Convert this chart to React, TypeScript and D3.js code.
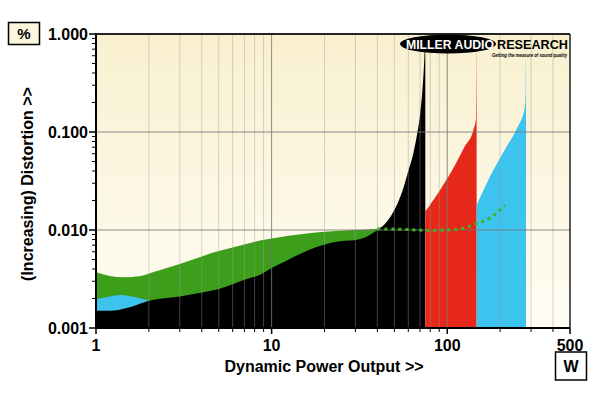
import * as d3 from 'd3';
import React from 'react';

const width = 600;
const height = 393;
const plot = { left: 96, right: 570, top: 34, bottom: 328 };

// x axis (W) and y axis (%) labels
const xTickValues = [1, 10, 100, 500];
const xTickLabels = ['1', '10', '100', '500'];
const yTickValues = [0.001, 0.01, 0.1, 1];
const yTickLabels = ['0.001', '0.010', '0.100', '1.000'];

// black trace (lowest load), filled from the floor
const blackPower = [1, 1.2, 1.5, 2, 3, 4, 5, 6, 7, 8.6, 10, 12, 14.5, 18, 21, 25, 30, 35, 40, 45, 49, 53, 56, 60, 64, 67, 70, 72, 74, 75];
const blackThd = [0.0015, 0.0015, 0.0016, 0.0019, 0.0021, 0.0023, 0.0025, 0.0028, 0.0031, 0.0035, 0.0041, 0.0048, 0.0057, 0.0067, 0.0073, 0.0077, 0.0079, 0.0086, 0.01, 0.012, 0.015, 0.02, 0.026, 0.04, 0.06, 0.09, 0.15, 0.25, 0.55, 1.0];

// green band top
const greenPower = [1, 1.2, 1.43, 1.8, 2, 3, 5, 7, 8.6, 10, 15, 20, 30, 40];
const greenThd = [0.0037, 0.0034, 0.0033, 0.0034, 0.0036, 0.0045, 0.0061, 0.0071, 0.0078, 0.0082, 0.0091, 0.0096, 0.01, 0.0103];

// cyan sliver at low power
const cyanLowPower = [1, 1.2, 1.37, 1.6, 2];
const cyanLowThd = [0.00196, 0.0021, 0.00217, 0.0021, 0.0019];

// red trace
const redPower = [75, 91, 110, 125, 141, 146, 147];
const redThd = [0.0154, 0.0256, 0.045, 0.07, 0.105, 0.14, 1.0];

// cyan trace
const cyanPower = [147, 175, 218, 250, 277, 280, 281];
const cyanThd = [0.018, 0.035, 0.071, 0.11, 0.18, 0.3, 1.0];

// green dotted continuation
const dotPower = [40, 60, 80, 100, 125, 147, 175, 195, 213];
const dotThd = [0.0103, 0.0101, 0.0099, 0.01, 0.0105, 0.0116, 0.0133, 0.0154, 0.018];

const font = '"Liberation Sans", Arial, sans-serif';

const x = d3.scaleLog().domain([1, 500]).range([plot.left, plot.right]);
const y = d3.scaleLog().domain([0.001, 1]).range([plot.bottom, plot.top]);

const pts = (p: number[], v: number[]) => p.map((d, i) => [d, v[i]] as [number, number]);

const area = d3.area<[number, number]>()
  .x(d => x(d[0]))
  .y0(plot.bottom)
  .y1(d => y(d[1]))
  .curve(d3.curveMonotoneX);

const line = d3.line<[number, number]>()
  .x(d => x(d[0]))
  .y(d => y(d[1]))
  .curve(d3.curveMonotoneX);

// minor positions inside each decade
const minorX: number[] = [];
[1, 10, 100].forEach(dec => {
  for (let k = 2; k <= 9; k++) if (dec * k < 500) minorX.push(dec * k);
});
const minorY: number[] = [];
[0.001, 0.01, 0.1].forEach(dec => {
  for (let k = 2; k <= 9; k++) minorY.push(dec * k);
});

export default function App() {
  return (
    <svg width={width} height={height} style={{ position: 'absolute', left: 0, top: 0, background: '#fff' }}>
      <defs>
        <linearGradient id="bg" x1="0" y1="0" x2="0" y2="1">
          <stop offset="0%" stopColor="#f9f0cf" />
          <stop offset="100%" stopColor="#fffdf4" />
        </linearGradient>
        <clipPath id="clip">
          <rect x={plot.left} y={plot.top} width={plot.right - plot.left} height={plot.bottom - plot.top} />
        </clipPath>
      </defs>

      <rect x={plot.left} y={plot.top} width={plot.right - plot.left} height={plot.bottom - plot.top} fill="url(#bg)" />

      <g clipPath="url(#clip)">
        <path d={area(pts(greenPower, greenThd)) || ''} fill="#3d9e1c" />
        <path d={area(pts(cyanLowPower, cyanLowThd)) || ''} fill="#3cc3ee" />
        <path d={area(pts(blackPower, blackThd)) || ''} fill="#000" />
        <path d={area(pts(redPower, redThd)) || ''} fill="#e5281a" />
        <path d={area(pts(cyanPower, cyanThd)) || ''} fill="#3cc3ee" />

        {minorX.map(v => (
          <line key={'gx' + v} x1={x(v)} x2={x(v)} y1={plot.top} y2={plot.bottom} stroke="#9a9a9a" strokeOpacity={0.42} strokeWidth={1} />
        ))}
        {[10, 100].map(v => (
          <line key={'gX' + v} x1={x(v)} x2={x(v)} y1={plot.top} y2={plot.bottom} stroke="#777" strokeOpacity={0.85} strokeWidth={1} />
        ))}
        {[0.01, 0.1].map(v => (
          <line key={'gy' + v} x1={plot.left} x2={plot.right} y1={y(v)} y2={y(v)} stroke="#777" strokeOpacity={0.85} strokeWidth={1} />
        ))}

        <path d={line(pts(dotPower, dotThd)) || ''} fill="none" stroke="#3cb51e" strokeWidth={3} strokeDasharray="3 4" />
      </g>

      {/* frame */}
      <line x1={plot.left} x2={plot.right} y1={plot.top} y2={plot.top} stroke="#222" strokeWidth={2} />
      <line x1={plot.right} x2={plot.right} y1={plot.top} y2={plot.bottom} stroke="#222" strokeWidth={1.5} />
      <line x1={plot.left} x2={plot.left} y1={plot.top - 1} y2={plot.bottom + 1} stroke="#000" strokeWidth={2} />
      <line x1={plot.left - 1} x2={plot.right} y1={plot.bottom} y2={plot.bottom} stroke="#000" strokeWidth={2} />

      {/* y ticks */}
      {yTickValues.map(v => (
        <line key={'yt' + v} x1={plot.left - 7} x2={plot.left} y1={y(v)} y2={y(v)} stroke="#000" strokeWidth={1.5} />
      ))}
      {minorY.map(v => (
        <line key={'ym' + v} x1={plot.left - 4} x2={plot.left} y1={y(v)} y2={y(v)} stroke="#000" strokeWidth={1} />
      ))}
      {yTickValues.map((v, i) => (
        <text key={'yl' + v} x={plot.left - 8} y={y(v)} dy="0.36em" textAnchor="end" fontFamily={font} fontWeight="bold" fontSize={16} fill="#000">
          {yTickLabels[i]}
        </text>
      ))}

      {/* x ticks */}
      {xTickValues.map(v => (
        <line key={'xt' + v} x1={x(v)} x2={x(v)} y1={plot.bottom} y2={plot.bottom + 6} stroke="#000" strokeWidth={1.5} />
      ))}
      {minorX.map(v => (
        <line key={'xm' + v} x1={x(v)} x2={x(v)} y1={plot.bottom} y2={plot.bottom + 4} stroke="#000" strokeWidth={1} />
      ))}
      {xTickValues.map((v, i) => (
        <text key={'xl' + v} x={x(v)} y={351} textAnchor="middle" fontFamily={font} fontWeight="bold" fontSize={16} fill="#000">
          {xTickLabels[i]}
        </text>
      ))}

      {/* titles */}
      <text x={324} y={372} textAnchor="middle" fontFamily={font} fontWeight="bold" fontSize={16} fill="#000">
        Dynamic Power Output &gt;&gt;
      </text>
      <text transform="translate(33,184) rotate(-90)" textAnchor="middle" fontFamily={font} fontWeight="bold" fontSize={16} fill="#000">
        (Increasing) Distortion &gt;&gt;
      </text>

      {/* unit boxes */}
      <rect x={8.5} y={22.5} width={31} height={22} fill="#fbf6dc" stroke="#000" strokeWidth={1.5} />
      <text x={24} y={39} textAnchor="middle" fontFamily={font} fontWeight="bold" fontSize={15} fill="#000">%</text>
      <rect x={555.5} y={352} width={31} height={28} fill="#fff" stroke="#000" strokeWidth={1.5} />
      <text x={571} y={372} textAnchor="middle" fontFamily={font} fontWeight="bold" fontSize={16} fill="#000">W</text>

      {/* logo */}
      <ellipse cx={448} cy={44} rx={48} ry={9.5} fill="#000" />
      <text x={406} y={48.5} fontFamily={font} fontWeight="900" fontSize={12} fill="#fff" textLength={88} lengthAdjust="spacingAndGlyphs">
        MILLER AUDIO
      </text>
      <text x={497} y={48.5} fontFamily={font} fontWeight="900" fontSize={12} fill="#000" textLength={71} lengthAdjust="spacingAndGlyphs">
        RESEARCH
      </text>
      <text x={492} y={57} fontFamily={font} fontWeight="bold" fontStyle="italic" fontSize={5} fill="#000" textLength={75} lengthAdjust="spacingAndGlyphs">
        Getting the measure of sound quality
      </text>
    </svg>
  );
}
